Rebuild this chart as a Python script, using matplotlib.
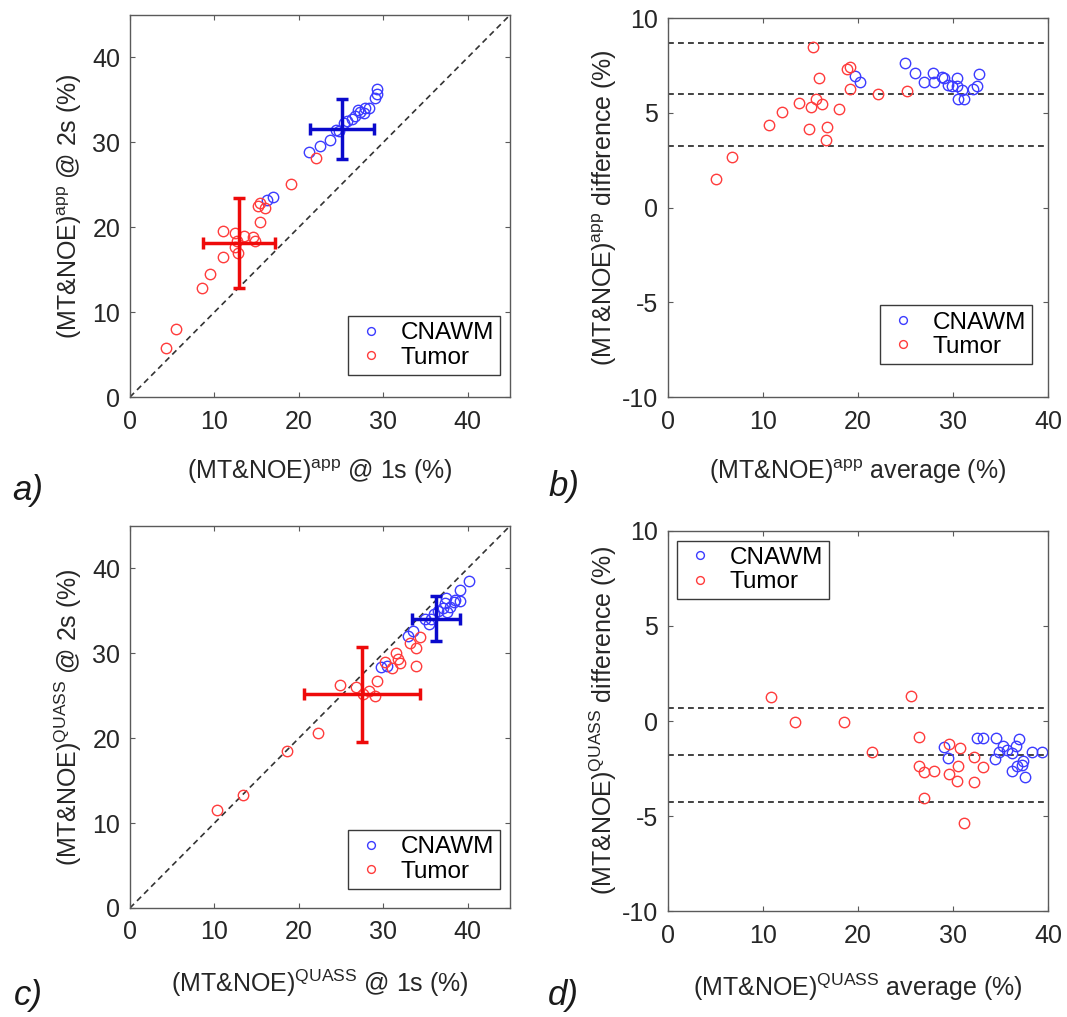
import matplotlib
matplotlib.use('Agg')
import matplotlib.pyplot as plt
import numpy as np

plt.rcParams['font.family'] = ['Liberation Sans', 'DejaVu Sans']
plt.rcParams['mathtext.fontset'] = 'custom'
plt.rcParams['mathtext.rm'] = 'Liberation Sans'
plt.rcParams['mathtext.default'] = 'regular'
plt.rcParams['axes.unicode_minus'] = False

# apparent MT&NOE (%) at 1 s and 2 s saturation
app_cnawm_1s = [16.25, 16.95, 21.16, 22.50, 23.64, 24.39, 24.74, 25.37, 25.68, 26.28,
                26.67, 26.96, 27.20, 27.81, 27.69, 28.32, 29.02, 29.30, 29.22]
app_cnawm_2s = [23.20, 23.56, 28.81, 29.59, 30.27, 31.48, 31.34, 32.25, 32.50, 32.75,
                33.06, 33.82, 33.59, 34.02, 33.43, 34.06, 35.27, 35.69, 36.27]
app_tumor_1s = [4.28, 5.42, 8.49, 9.53, 10.98, 12.39, 12.77, 11.02, 12.67, 12.43,
                13.49, 14.58, 14.86, 15.40, 15.19, 15.44, 15.99, 19.07, 22.05]
app_tumor_2s = [5.77, 8.07, 12.86, 14.55, 16.52, 17.72, 16.91, 19.51, 18.41, 19.29,
                18.93, 18.83, 18.40, 20.61, 22.49, 22.88, 22.25, 25.07, 28.19]

# QUASS MT&NOE (%) at 1 s and 2 s saturation
quass_cnawm_1s = [29.79, 30.42, 32.95, 33.58, 34.99, 35.46, 35.69, 35.95, 36.48, 37.02,
                  37.28, 37.43, 37.51, 37.90, 38.39, 38.46, 39.05, 39.11, 40.16]
quass_cnawm_2s = [28.40, 28.46, 32.04, 32.67, 34.08, 33.46, 34.08, 34.65, 34.97, 35.34,
                  35.98, 36.48, 34.86, 35.51, 36.07, 36.34, 36.12, 37.46, 38.51]
quass_tumor_1s = [10.26, 13.35, 18.57, 22.27, 24.92, 26.80, 27.57, 28.29, 29.31, 28.99,
                  30.19, 31.46, 31.01, 32.03, 31.76, 33.17, 34.34, 33.87, 33.86]
quass_tumor_2s = [11.51, 13.31, 18.50, 20.62, 26.25, 25.98, 25.22, 25.62, 26.70, 24.92,
                  28.98, 30.02, 28.22, 28.89, 29.37, 31.26, 31.90, 30.64, 28.47]

# group mean and SD crosses: (mean 1s, sd 1s, mean 2s, sd 2s)
app_cnawm_cross = [25.1, 3.8, 31.6, 3.5]
app_tumor_cross = [12.9, 4.3, 18.2, 5.3]
quass_cnawm_cross = [36.2, 2.85, 34.1, 2.6]
quass_tumor_cross = [27.5, 6.9, 25.15, 5.65]

# Bland-Altman bias and limits of agreement
app_ba_lines = [8.7, 5.97, 3.25]
quass_ba_lines = [0.68, -1.79, -4.25]

app_lbl = r'(MT&NOE)$^{app}$'
quass_lbl = r'(MT&NOE)$^{QUASS}$'

PT_BLUE = '#3c3cff'
PT_RED = '#ff3c3c'
BAR_BLUE = '#0a0acc'
BAR_RED = '#ee0a0a'
FS = 18


def style_axes(ax):
  for sp in ax.spines.values():
    sp.set_color('#5a5a5a')
    sp.set_linewidth(1.0)
  ax.tick_params(direction='in', top=True, right=True, length=3.5, width=0.8,
                 color='#5a5a5a', labelsize=FS, labelcolor='#262626')
  ax.tick_params(axis='x', pad=9)
  ax.tick_params(axis='y', pad=7)


def add_legend(ax, loc, anchor):
  ax.legend(loc=loc, bbox_to_anchor=anchor, borderaxespad=0, fontsize=17.5,
            fancybox=False, framealpha=1, edgecolor='#3a3a3a',
            handlelength=1.4, handletextpad=0.5, borderpad=0.25,
            labelspacing=0.1, markerscale=0.75)


def scatter_panel(ax, c1, c2, t1, t2, c_cross, t_cross, name):
  ax.plot([0, 45], [0, 45], color='#333333', lw=1.2, ls=(0, (3.5, 2.5)))
  ax.plot(c1, c2, 'o', mfc='none', mec=PT_BLUE, ms=7.5, mew=1.0, label='CNAWM')
  ax.plot(t1, t2, 'o', mfc='none', mec=PT_RED, ms=7.5, mew=1.0, label='Tumor')
  for cr, col in ((c_cross, BAR_BLUE), (t_cross, BAR_RED)):
    ax.errorbar(cr[0], cr[2], xerr=cr[1], yerr=cr[3], color=col, lw=2.5,
                capsize=4.5, capthick=2.5)
  ax.set_xlim(0, 45)
  ax.set_ylim(0, 45)
  ax.set_xticks([0, 10, 20, 30, 40])
  ax.set_yticks([0, 10, 20, 30, 40])
  ax.set_xlabel(name + ' @ 1s (%)', fontsize=FS, color='#262626', labelpad=17)
  ax.set_ylabel(name + ' @ 2s (%)', fontsize=FS, color='#262626', labelpad=6)
  style_axes(ax)


def ba_panel(ax, c1, c2, t1, t2, lines, ylim, name):
  for v in lines:
    ax.axhline(v, color='#222222', lw=1.2, ls=(0, (3.5, 2.5)))
  for a, b, col, lab in ((c1, c2, PT_BLUE, 'CNAWM'), (t1, t2, PT_RED, 'Tumor')):
    a = np.array(a)
    b = np.array(b)
    ax.plot((a + b) / 2, b - a, 'o', mfc='none', mec=col, ms=7.5, mew=1.0, label=lab)
  ax.set_xlim(0, 40)
  ax.set_ylim(*ylim)
  ax.set_xticks([0, 10, 20, 30, 40])
  ax.set_yticks([-10, -5, 0, 5, 10])
  ax.set_xlabel(name + ' average (%)', fontsize=FS, color='#262626', labelpad=17)
  ax.set_ylabel(name + ' difference (%)', fontsize=FS, color='#262626', labelpad=2)
  style_axes(ax)


fig = plt.figure(figsize=(10.67, 10.17), dpi=100)
ax_a = fig.add_axes([0.1218, 0.6096, 0.3561, 0.3756])
ax_b = fig.add_axes([0.6260, 0.6096, 0.3561, 0.3727])
ax_c = fig.add_axes([0.1218, 0.1072, 0.3561, 0.3756])
ax_d = fig.add_axes([0.6260, 0.1042, 0.3561, 0.3737])

scatter_panel(ax_a, app_cnawm_1s, app_cnawm_2s, app_tumor_1s, app_tumor_2s,
              app_cnawm_cross, app_tumor_cross, app_lbl)
add_legend(ax_a, 'lower right', (0.974, 0.058))

ba_panel(ax_b, app_cnawm_1s, app_cnawm_2s, app_tumor_1s, app_tumor_2s,
         app_ba_lines, (-10, 10), app_lbl)
add_legend(ax_b, 'lower right', (0.958, 0.087))

scatter_panel(ax_c, quass_cnawm_1s, quass_cnawm_2s, quass_tumor_1s, quass_tumor_2s,
              quass_cnawm_cross, quass_tumor_cross, quass_lbl)
add_legend(ax_c, 'lower right', (0.974, 0.05))

ba_panel(ax_d, quass_cnawm_1s, quass_cnawm_2s, quass_tumor_1s, quass_tumor_2s,
         quass_ba_lines, (-10, 10), quass_lbl)
add_legend(ax_d, 'upper left', (0.024, 0.974))

# panel letters
for txt, x, y in (('a)', 0.011, 0.508), ('b)', 0.514, 0.512),
                  ('c)', 0.013, 0.012), ('d)', 0.513, 0.012)):
  fig.text(x, y, txt, fontsize=25, style='italic', color='#1a1a1a')

fig.savefig('out.png', dpi=100)
